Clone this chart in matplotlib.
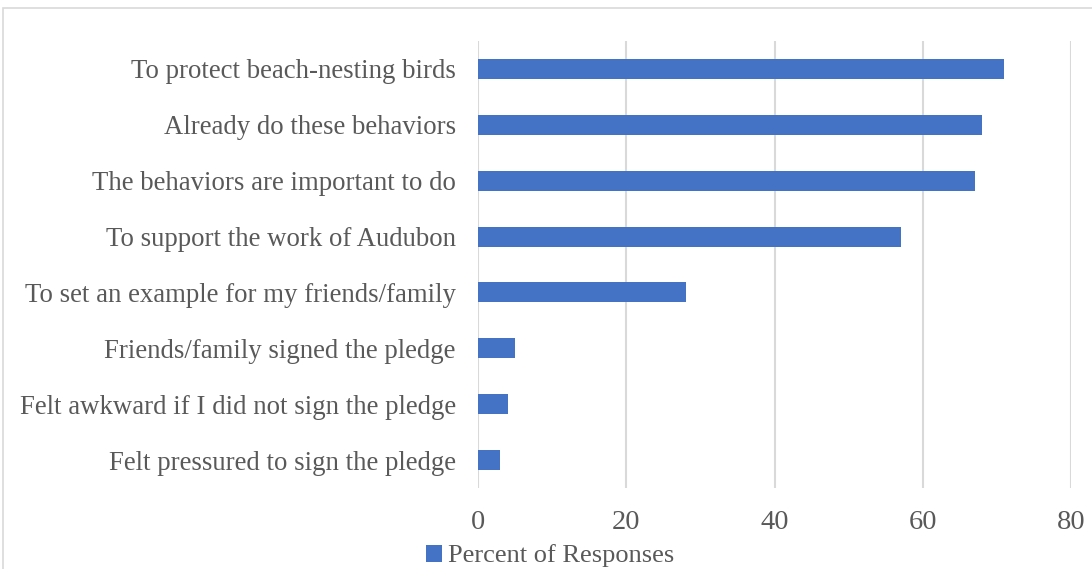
import matplotlib.pyplot as plt
from matplotlib.patches import Rectangle

# Survey: reasons for signing the pledge
reasons = [
    'To protect beach-nesting birds',
    'Already do these behaviors',
    'The behaviors are important to do',
    'To support the work of Audubon',
    'To set an example for my friends/family',
    'Friends/family signed the pledge',
    'Felt awkward if I did not sign the pledge',
    'Felt pressured to sign the pledge',
]
percent = [71, 68, 67, 57, 28, 5, 4, 3]
x_ticks = [0, 20, 40, 60, 80]

plt.rcParams['font.family'] = ['Liberation Serif', 'DejaVu Serif']
text_color = '#595959'
grid_color = '#d9d9d9'
bar_color = '#4472C4'

W, H = 1092, 569
fig = plt.figure(figsize=(W / 100, H / 100), dpi=100)
ax = fig.add_axes([478 / W, 1 - 488 / H, (1071 - 478) / W, (488 - 41) / H])

y = list(range(len(reasons)))[::-1]
ax.barh(y, percent, height=0.36, color=bar_color, label='Percent of Responses', zorder=3)

ax.set_xlim(0, 80)
ax.set_ylim(-0.5, len(reasons) - 0.5)
ax.set_xticks(x_ticks)
ax.set_xticklabels([str(t) for t in x_ticks], fontsize=20.5, color=text_color)
ax.set_yticks(y)
ax.set_yticklabels(reasons, fontsize=19.3, color=text_color)
ax.tick_params(axis='both', length=0)
ax.tick_params(axis='x', pad=16)
ax.tick_params(axis='y', pad=16)

ax.grid(axis='x', color=grid_color, linewidth=1.5, zorder=0)
for s in ax.spines.values():
    s.set_visible(False)

leg = fig.legend(loc='center left', bbox_to_anchor=(426 / W, 1 - 556 / H), frameon=False,
                 fontsize=19, handlelength=0.6, handleheight=0.6, handletextpad=0.25,
                 borderpad=0, borderaxespad=0)
for t in leg.get_texts():
    t.set_color(text_color)

# light outer frame
fig.patches.append(Rectangle((3 / W, -0.1), 1.2, 1 - 8 / H + 0.1, transform=fig.transFigure,
                             fill=False, edgecolor=grid_color, linewidth=1.2))

fig.savefig('out.png', dpi=100)
